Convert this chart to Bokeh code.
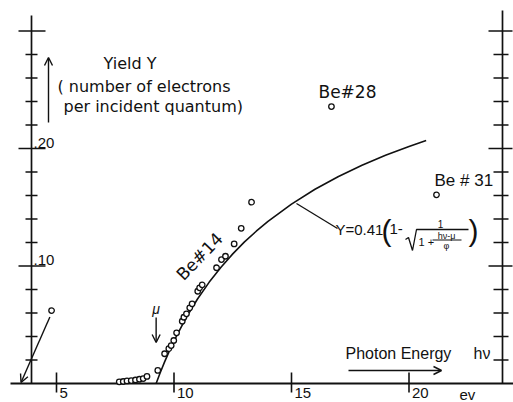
from bokeh.plotting import figure
from bokeh.models import Range1d, Arrow, OpenHead
from bokeh.core.properties import value
from bokeh.embed import file_html
from bokeh.resources import INLINE

# ---------------- data ----------------
be14_energy = [7.67, 7.84, 8.00, 8.18, 8.36, 8.53, 8.69, 8.85,
               9.31, 9.60, 9.78, 9.88, 9.99, 10.11, 10.35, 10.42, 10.53,
               10.67, 10.77, 11.01, 11.09, 11.20, 11.81, 12.02, 12.19,
               12.56, 12.86, 13.30]
be14_yield = [0.0014, 0.0017, 0.0022, 0.0025, 0.0030, 0.0036, 0.0042, 0.0060,
              0.0111, 0.0253, 0.0296, 0.0323, 0.0366, 0.0431, 0.0530, 0.0564,
              0.0593, 0.0644, 0.0678, 0.0785, 0.0814, 0.0840, 0.0985, 0.1055,
              0.1083, 0.1188, 0.1321, 0.1543]

be28_energy = [16.70]
be28_yield = [0.2357]
be31_energy = [21.17]
be31_yield = [0.1606]
offscale_energy = [4.79]
offscale_yield = [0.0621]

fit_energy = [9.24, 9.4, 9.6, 9.8, 10.0, 10.5, 11.0, 11.5, 12.0, 12.5, 13.0,
              13.5, 14.0, 15.0, 16.0, 17.0, 18.0, 19.0, 20.0, 20.73]
fit_yield = [0.0, 0.0085, 0.0184, 0.0276, 0.0362, 0.0554, 0.0719, 0.0863,
             0.0990, 0.1103, 0.1205, 0.1296, 0.1380, 0.1527, 0.1653, 0.1762,
             0.1857, 0.1942, 0.2018, 0.2068]

mu_energy = 9.24

x_ticks = [5, 10, 15, 20]
x_tick_labels = ["5", "10", "15", "20"]
y_ticks = [0.02, 0.04, 0.06, 0.08, 0.10, 0.12, 0.14, 0.16, 0.18, 0.20,
           0.22, 0.24, 0.26, 0.28, 0.30]
y_major = [0.10, 0.20, 0.30]
y_tick_labels = [".10", ".20"]
y_label_ticks = [0.10, 0.20]

# ---------------- scale (picture pixels <-> data) ----------------
PX_PER_EV = 23.5
PX_PER_Y = 1175.0
W, H = 513, 402


def ex(xp):
    return 5 + (xp - 56) / PX_PER_EV


def wy(yp):
    return (383 - yp) / PX_PER_Y


def dx(px):
    return px / PX_PER_EV


def dy(px):
    return px / PX_PER_Y


p = figure(width=W, height=H,
           x_range=Range1d(ex(0), ex(W)),
           y_range=Range1d(wy(H), wy(0)),
           output_backend="svg", toolbar_location=None,
           x_axis_location=None, y_axis_location=None,
           min_border=0, outline_line_color=None,
           background_fill_color="white", border_fill_color="white")
p.xgrid.visible = False
p.ygrid.visible = False

INK = "#111111"
FONT = "Liberation Sans"
SANS = "DejaVu Sans"


def label(xs, ys, texts, size, font=FONT, align="left", **kw):
    p.text(x=xs, y=ys, text=texts, text_font=value(font),
           text_font_size=size, text_align=align, text_baseline="middle",
           text_color=INK, **kw)


# ---------------- hand-drawn axes ----------------
AXL = ex(31)
AXR = ex(502)
# baseline
p.segment(x0=[ex(10)], y0=[0], x1=[ex(513)], y1=[0], line_color=INK, line_width=1.8)
# left / right vertical axes
p.segment(x0=[AXL, AXR], y0=[0, 0], x1=[AXL, AXR], y1=[wy(15), wy(10)],
          line_color=INK, line_width=1.7)

# left / right ticks
lx0, lx1, rx0, rx1, tys = [], [], [], [], []
for t in y_ticks:
    major = any(abs(t - m) < 1e-9 for m in y_major)
    tys.append(t)
    if major:
        lx0.append(AXL - dx(13)); lx1.append(AXL + dx(14))
        rx0.append(AXR - dx(14)); rx1.append(AXR + dx(10))
    else:
        lx0.append(AXL - dx(6)); lx1.append(AXL + dx(6))
        rx0.append(AXR - dx(9)); rx1.append(AXR + dx(6))
p.segment(x0=lx0, y0=tys, x1=lx1, y1=tys, line_color=INK, line_width=1.5)
p.segment(x0=rx0, y0=tys, x1=rx1, y1=tys, line_color=INK, line_width=1.5)

# x ticks (cross the baseline)
p.segment(x0=x_ticks, y0=[wy(372)] * len(x_ticks), x1=x_ticks,
          y1=[wy(392)] * len(x_ticks), line_color=INK, line_width=1.6)
label([t + dx(3) for t in x_ticks], [wy(392)] * len(x_ticks), x_tick_labels, "15px")
label([ex(459)], [wy(393.5)], ["ev"], "15px")

# y tick labels
label([AXL + dx(2)] * len(y_label_ticks), [t + dy(6) for t in y_label_ticks],
      y_tick_labels, "15px")

# ---------------- fitted curve & data ----------------
p.line(fit_energy, fit_yield, line_color=INK, line_width=1.6)

for xs, ys in [(be14_energy, be14_yield), (be28_energy, be28_yield),
               (be31_energy, be31_yield), (offscale_energy, offscale_yield)]:
    p.scatter(xs, ys, marker="circle", size=5.5, fill_color="white",
              line_color=INK, line_width=1.3)


# ---------------- annotations ----------------
def arrow(x0, y0, x1, y1):
    p.add_layout(Arrow(end=OpenHead(size=8, line_width=1.4, line_color=INK),
                       x_start=x0, y_start=y0, x_end=x1, y_end=y1,
                       line_width=1.4, line_color=INK))


# off-scale point arrow
arrow(offscale_energy[0] - dx(1.7), offscale_yield[0] - dy(6.5), ex(20.5), wy(382))
# mu arrow
arrow(mu_energy, wy(317), mu_energy, wy(342))
label([mu_energy], [wy(308)], ["\u03bc"], "14px", align="center",
      text_font_style="italic")

# yield label
arrow(ex(48), wy(122), ex(48), wy(57))
label([ex(103), ex(57), ex(63)], [wy(63), wy(86), wy(106)],
      ["Yield Y", "( number of electrons", " per incident quantum)"], "16px", font=SANS)

# photon energy label
label([ex(345), ex(473)], [wy(353), wy(353)], ["Photon Energy", "h\u03bd"], "16px")
arrow(ex(348), wy(370), ex(441), wy(370))

# sample labels
label([ex(318)], [wy(91.5)], ["Be#28"], "17px", font=SANS)
label([ex(434)], [wy(179.5)], ["Be # 31"], "17px")
label([ex(199)], [wy(256)], ["Be#14"], "17px", font=SANS, align="center",
      angle=46, angle_units="deg")

# formula with leader line
p.segment(x0=[ex(296)], y0=[wy(203)], x1=[ex(337)], y1=[wy(228)],
          line_color=INK, line_width=1.3)
label([ex(335), ex(389)], [wy(228.5), wy(228.5)], ["Y=0.41", "1-"], "15px")
label([ex(381), ex(468)], [wy(229.5), wy(229.5)], ["(", ")"], "30px")
# fraction bar + radical
p.line(x=[ex(405), ex(408), ex(412), ex(416), ex(468)],
       y=[wy(239), wy(237), wy(250), wy(229), wy(229)],
       line_color=INK, line_width=1.3)
label([ex(440)], [wy(223.5)], ["1"], "10px", align="center")
label([ex(418)], [wy(241.5)], ["1 +"], "11px")
label([ex(446), ex(446)], [wy(235), wy(245)], ["h\u03bd-\u03bc", "\u03c6"], "9px",
      align="center")
p.segment(x0=[ex(432)], y0=[wy(239.5)], x1=[ex(461)], y1=[wy(239.5)],
          line_color=INK, line_width=1.0)

open("out.html", "w").write(file_html(p, INLINE))
